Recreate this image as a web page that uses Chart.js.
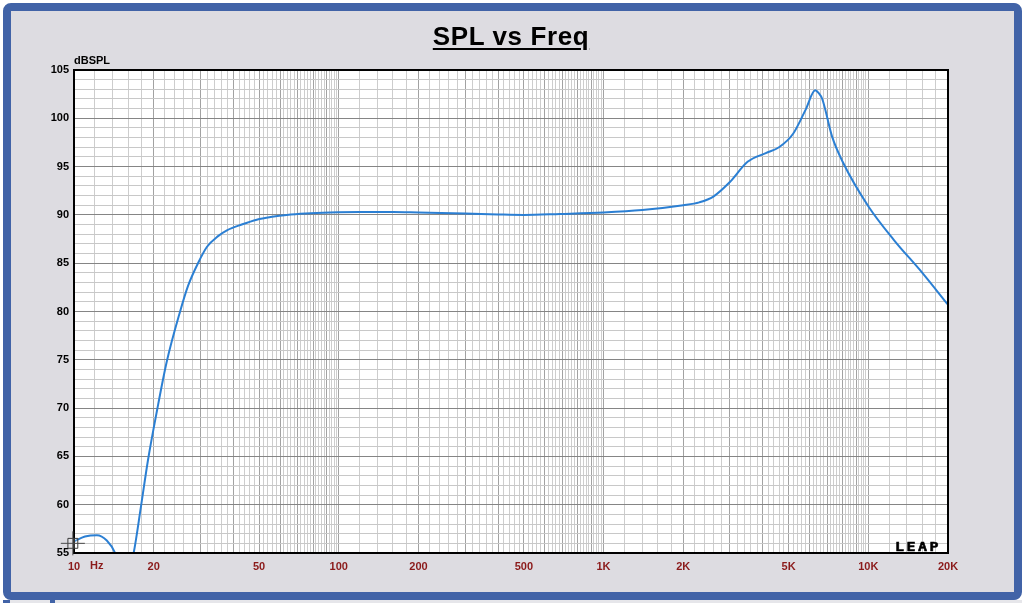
<!DOCTYPE html>
<html lang="en">
  <head>
    <meta charset="UTF-8" />
    <title>SPL vs Freq</title>
    <script src="https://cdn.jsdelivr.net/npm/chart.js"></script>
    <style>
      * {
        margin: 0;
        padding: 0;
        box-sizing: border-box;
      }

      body {
        width: 1024px;
        height: 603px;
        background: #ffffff;
        position: relative;
        overflow: hidden;
        font-family: Arial, "Liberation Sans", sans-serif;
      }

      .frame {
        position: absolute;
        left: 3px;
        top: 3px;
        width: 1019px;
        height: 597px;
        border: 8px solid #4163a7;
        border-radius: 8px;
        background: #dddce1;
      }

      .next-frame {
        position: absolute;
        left: 3px;
        top: 600px;
        width: 1019px;
        height: 10px;
        border-left: 7px solid #4163a7;
        background: #e6e6ea;
      }

      .next-frame span {
        position: absolute;
        left: 40px;
        top: 0;
        width: 5px;
        height: 10px;
        background: #4163a7;
      }

      .chart-box {
        position: absolute;
        left: 0;
        top: 0;
        width: 1024px;
        height: 603px;
      }

      .title {
        position: absolute;
        left: 0;
        top: 23px;
        width: 1022px;
        text-align: center;
        font: bold 26px/26px Arial, "Liberation Sans", sans-serif;
        letter-spacing: 0.6px;
        text-decoration: underline;
        text-decoration-thickness: 2px;
        text-underline-offset: 3px;
        color: #000;
      }

      .unit {
        position: absolute;
        left: 74px;
        top: 55px;
        font: bold 11px/11px Arial, "Liberation Sans", sans-serif;
        color: #000;
      }

      .hz {
        position: absolute;
        left: 90px;
        top: 560px;
        font: bold 11px/11px Arial, "Liberation Sans", sans-serif;
        color: #8b1a1a;
      }

      .logo {
        position: absolute;
        left: 895px;
        top: 539px;
        font: bold 15px/14px "DejaVu Sans Mono", monospace;
        letter-spacing: 2.5px;
        -webkit-text-stroke: 0.6px #000;
        transform: scaleY(0.85);
        transform-origin: left bottom;
        color: #000;
      }
    </style>
  </head>
  <body>
    <div class="frame"></div>
    <div class="next-frame"><span></span></div>
    <div class="chart-box"><canvas id="splChart"></canvas></div>
    <div class="title">SPL vs Freq</div>
    <div class="unit">dBSPL</div>
    <div class="hz">Hz</div>
    <div class="logo">LEAP</div>

    <script>
      const freqHz = [
        10, 11, 12.2, 13.3, 14.3, 15.2, 16, 16.8, 17.9, 19, 20.6, 22.4, 25.1,
        27, 29.4, 31.8, 35, 37.8, 43, 49, 56, 63.6, 75, 92.7, 120, 160, 200,
        300, 400, 500, 684, 1000, 1400, 2000, 2300, 2600, 3000, 3500, 4100,
        4600, 5200, 5800, 6300, 6500, 6700, 7300, 8000, 10000, 12500, 16000,
        20000,
      ];
      const splDb = [
        56.2, 56.7, 56.85, 56.3, 55.0, 52.5, 52.8, 55.0, 59.8, 64.5, 69.8,
        74.8, 79.9, 82.7, 85.0, 86.7, 87.8, 88.4, 89.0, 89.5, 89.8, 90.0,
        90.15, 90.25, 90.3, 90.3, 90.25, 90.15, 90.05, 90.0, 90.1, 90.25,
        90.5, 91.0, 91.3, 91.9, 93.4, 95.5, 96.4, 97.0, 98.4, 100.9, 102.9,
        102.6, 102.0, 98.1, 95.5, 90.9, 87.4, 84.0, 80.7,
      ];

      // cursor marker at the left edge
      const markerHz = [9.9];
      const markerDb = [56.0];

      const freqTickValues = [10, 20, 50, 100, 200, 500, 1000, 2000, 5000, 10000, 20000];
      const freqTickLabels = ["10", "20", "50", "100", "200", "500", "1K", "2K", "5K", "10K", "20K"];
      const splTickValues = [55, 60, 65, 70, 75, 80, 85, 90, 95, 100, 105];

      // log grid: a line every 0.2 of each decade
      const gridHz = [];
      [10, 100, 1000, 10000].forEach((d) => {
        for (let k = 5; k < 50; k++) {
          const v = Math.round(((d * k) / 5) * 10) / 10;
          if (v <= 20000 && !gridHz.includes(v)) gridHz.push(v);
        }
      });

      function isMajorHz(v) {
        const d = Math.pow(10, Math.floor(Math.log10(v) + 1e-9));
        const m = v / d;
        return Math.abs(m - Math.round(m)) < 1e-6;
      }

      const plotFrame = {
        id: "plotFrame",
        beforeDraw(chart) {
          const a = chart.chartArea;
          const c = chart.ctx;
          c.save();
          c.fillStyle = "#ffffff";
          c.fillRect(a.left, a.top, a.right - a.left, a.bottom - a.top);
          c.restore();
        },
        afterDatasetDraw(chart, args) {
          if (args.index !== 0) return;
          const a = chart.chartArea;
          const c = chart.ctx;
          c.save();
          c.strokeStyle = "#000";
          c.lineWidth = 2;
          c.strokeRect(a.left, a.top, a.right - a.left, a.bottom - a.top);
          c.restore();
        },
      };

      const ctx = document.getElementById("splChart").getContext("2d");
      new Chart(ctx, {
        type: "line",
        data: {
          datasets: [
            {
              data: freqHz.map((f, i) => ({ x: f, y: splDb[i] })),
              borderColor: "#2b7fd3",
              borderWidth: 2,
              pointRadius: 0,
              cubicInterpolationMode: "monotone",
              order: 2,
            },
            {
              data: markerHz.map((f, i) => ({ x: f, y: markerDb[i] })),
              showLine: false,
              pointStyle: "cross",
              pointRadius: 12,
              pointBorderWidth: 1,
              pointBorderColor: "#4a4a4a",
              clip: false,
              order: 0,
            },
            {
              data: markerHz.map((f, i) => ({ x: f, y: markerDb[i] })),
              showLine: false,
              pointStyle: "rect",
              pointRadius: 7,
              pointBorderWidth: 1,
              pointBorderColor: "#3a3a3a",
              pointBackgroundColor: "rgba(255,255,255,0.2)",
              clip: false,
              order: 0,
            },
          ],
        },
        options: {
          responsive: true,
          maintainAspectRatio: false,
          animation: false,
          layout: { padding: { top: 70, right: 76, left: 0, bottom: 0 } },
          plugins: {
            legend: { display: false },
            tooltip: { enabled: false },
          },
          scales: {
            x: {
              type: "logarithmic",
              min: 10,
              max: 20000,
              afterBuildTicks: (s) => {
                s.ticks = gridHz.map((v) => ({ value: v }));
              },
              afterFit: (s) => {
                s.height = 50;
              },
              border: { display: false },
              grid: {
                drawTicks: false,
                lineWidth: 1,
                color: (c) => (c.tick && isMajorHz(c.tick.value) ? "#a2a2a2" : "#cdcdcd"),
              },
              ticks: {
                autoSkip: false,
                maxRotation: 0,
                minRotation: 0,
                padding: 7,
                color: "#8b1a1a",
                font: { family: "Arial", weight: "bold", size: 11 },
                callback: (v) => {
                  const i = freqTickValues.indexOf(Math.round(v * 10) / 10);
                  return i < 0 ? "" : freqTickLabels[i];
                },
              },
            },
            y: {
              min: 55,
              max: 105,
              afterFit: (s) => {
                s.width = 74;
              },
              border: { display: false },
              grid: {
                drawTicks: false,
                lineWidth: 1,
                color: (c) => (c.tick && c.tick.value % 5 === 0 ? "#858585" : "#c8c8c8"),
              },
              ticks: {
                stepSize: 1,
                autoSkip: false,
                padding: 5,
                color: "#000",
                font: { family: "Arial", weight: "bold", size: 11 },
                callback: (v) => (splTickValues.includes(v) ? String(v) : ""),
              },
            },
          },
        },
        plugins: [plotFrame],
      });
    </script>
  </body>
</html>
